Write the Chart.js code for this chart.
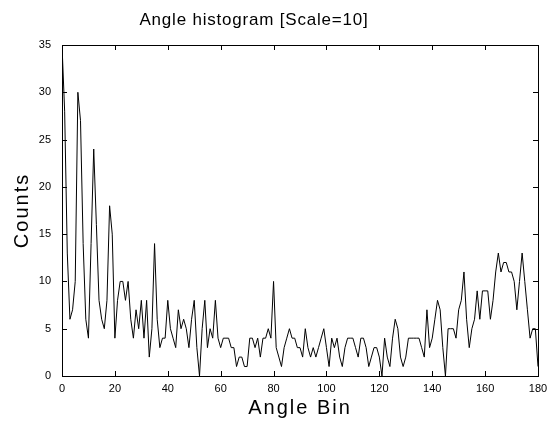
<!DOCTYPE html>
<html>
<head>
<meta charset="utf-8">
<script src="https://cdn.jsdelivr.net/npm/chart.js@4.4.1/dist/chart.umd.min.js"></script>
<style>
  html, body { margin: 0; padding: 0; background: #fff; }
  #wrap { width: 548px; height: 424px; }
</style>
</head>
<body>
<div id="wrap"><canvas id="chart" width="548" height="424"></canvas></div>
<script>
// angle histogram, one count per bin (0..180)
const counts = [
  35, 28, 13, 6, 7, 10, 30, 27, 14, 6,
  4, 14, 24, 16, 8, 6, 5, 8, 18, 15,
  4, 8, 10, 10, 8, 10, 6, 4, 7, 5,
  8, 4, 8, 2, 5, 14, 6, 3, 4, 4,
  8, 5, 4, 3, 7, 5, 6, 5, 3, 6,
  8, 3, 0, 5, 8, 3, 5, 4, 8, 4,
  3, 4, 4, 4, 3, 3, 1, 2, 2, 1,
  1, 4, 4, 3, 4, 2, 4, 4, 5, 4,
  10, 3, 2, 1, 3, 4, 5, 4, 4, 3,
  3, 2, 5, 3, 2, 3, 2, 3, 4, 5,
  3, 1, 4, 3, 4, 2, 1, 3, 4, 4,
  4, 3, 2, 4, 4, 3, 1, 2, 3, 3,
  2, 0, 4, 2, 1, 4, 6, 5, 2, 1,
  2, 4, 4, 4, 4, 4, 3, 2, 7, 3,
  4, 6, 8, 7, 3, 0, 5, 5, 5, 4,
  7, 8, 11, 6, 3, 5, 6, 9, 6, 9,
  9, 9, 6, 8, 11, 13, 11, 12, 12, 11,
  11, 10, 7, 10, 13, 10, 7, 4, 5, 5,
  1
];
const xTicks = [0, 20, 40, 60, 80, 100, 120, 140, 160, 180];
const yTicks = [0, 5, 10, 15, 20, 25, 30, 35];
const titleText = 'Angle histogram [Scale=10]';
const xLabel = 'Angle Bin';
const yLabel = 'Counts';

const FONT = '"Liberation Sans", Arial, sans-serif';

// matlab style frame: box plus inward ticks on all four sides, and the texts
const matlabFrame = {
    id: 'matlabFrame',
    afterDraw(chart) {
        const { ctx, chartArea: a, scales } = chart;
        const len = 5;
        ctx.save();
        ctx.strokeStyle = '#000';
        ctx.lineWidth = 1;
        ctx.strokeRect(a.left + 0.5, a.top + 0.5, a.right - a.left, a.bottom - a.top);
        ctx.beginPath();
        xTicks.forEach(v => {
            const px = Math.round(scales.x.getPixelForValue(v)) + 0.5;
            ctx.moveTo(px, a.bottom); ctx.lineTo(px, a.bottom - len);
            ctx.moveTo(px, a.top); ctx.lineTo(px, a.top + len);
        });
        yTicks.forEach(v => {
            const py = Math.round(scales.y.getPixelForValue(v)) + 0.5;
            ctx.moveTo(a.left, py); ctx.lineTo(a.left + len, py);
            ctx.moveTo(a.right, py); ctx.lineTo(a.right - len, py);
        });
        ctx.stroke();

        ctx.fillStyle = '#000';
        ctx.textBaseline = 'alphabetic';
        ctx.textAlign = 'center';
        ctx.font = '17px ' + FONT;
        ctx.letterSpacing = '0.8px';
        ctx.fillText(titleText, 254, 25);

        ctx.font = '20px ' + FONT;
        ctx.letterSpacing = '2px';
        ctx.fillText(xLabel, (a.left + a.right) / 2, 414);

        ctx.translate(28, (a.top + a.bottom) / 2);
        ctx.rotate(-Math.PI / 2);
        ctx.fillText(yLabel, 0, 0);
        ctx.restore();
    }
};

new Chart(document.getElementById('chart'), {
    type: 'line',
    data: {
        datasets: [{
            data: counts.map((c, i) => ({ x: i, y: c })),
            borderColor: '#000',
            borderWidth: 1,
            pointRadius: 0,
            tension: 0,
            fill: false
        }]
    },
    options: {
        responsive: false,
        animation: false,
        events: [],
        layout: { padding: { left: 0, top: 45, right: 10, bottom: 0 } },
        plugins: { legend: { display: false }, tooltip: { enabled: false } },
        scales: {
            x: {
                type: 'linear',
                min: 0,
                max: 180,
                afterFit: s => { s.height = 48; s.paddingLeft = 0; s.paddingRight = 0; },
                afterBuildTicks: s => { s.ticks = xTicks.map(v => ({ value: v })); },
                grid: { display: false, drawTicks: false },
                border: { display: false },
                ticks: {
                    color: '#000',
                    padding: 6,
                    maxRotation: 0,
                    autoSkip: false,
                    font: { family: FONT, size: 11 }
                }
            },
            y: {
                min: 0,
                max: 35,
                afterFit: s => { s.width = 62; s.paddingTop = 0; s.paddingBottom = 0; },
                afterBuildTicks: s => { s.ticks = yTicks.map(v => ({ value: v })); },
                grid: { display: false, drawTicks: false },
                border: { display: false },
                ticks: {
                    color: '#000',
                    padding: 11,
                    autoSkip: false,
                    font: { family: FONT, size: 11 }
                }
            }
        }
    },
    plugins: [matlabFrame]
});
</script>
</body>
</html>
